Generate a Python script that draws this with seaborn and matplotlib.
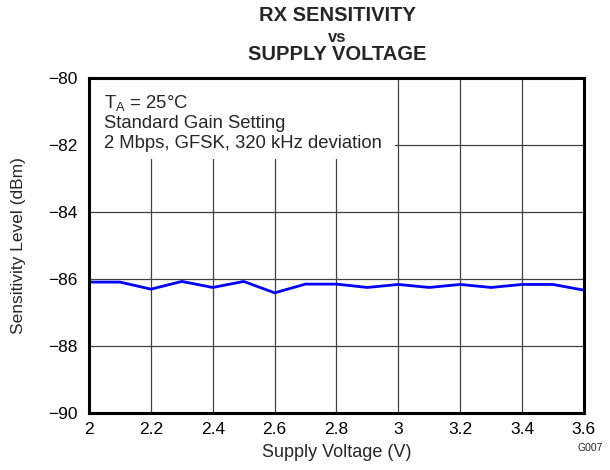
import matplotlib
matplotlib.use("Agg")
import matplotlib.pyplot as plt
from matplotlib.patches import Rectangle
import seaborn as sns
import pandas as pd

voltage = [2.0, 2.1, 2.2, 2.3, 2.4, 2.5, 2.6, 2.7, 2.8, 2.9, 3.0, 3.1, 3.2, 3.3, 3.4, 3.5, 3.6]
sensitivity = [-86.09, -86.09, -86.30, -86.07, -86.25, -86.07, -86.41, -86.15, -86.15,
               -86.25, -86.16, -86.25, -86.16, -86.25, -86.16, -86.16, -86.33]
xticks = [2, 2.2, 2.4, 2.6, 2.8, 3, 3.2, 3.4, 3.6]
xtick_labels = ["2", "2.2", "2.4", "2.6", "2.8", "3", "3.2", "3.4", "3.6"]
yticks = [-90, -88, -86, -84, -82, -80]
ytick_labels = ["\u221290", "\u221288", "\u221286", "\u221284", "\u221282", "\u221280"]

sns.set_style("white")
plt.rcParams['font.family'] = ['Liberation Sans', 'DejaVu Sans']

fig = plt.figure(figsize=(6.10, 4.70), dpi=100)
ax = fig.add_axes([0.146, 0.121, 0.811, 0.713])

df = pd.DataFrame({"V": voltage, "S": sensitivity})
sns.lineplot(data=df, x="V", y="S", ax=ax, color="#0000ff", linewidth=2.0, zorder=3)

ax.set_xlim(2, 3.6)
ax.set_ylim(-90, -80)
ax.set_xticks(xticks)
ax.set_xticklabels(xtick_labels)
ax.set_yticks(yticks)
ax.set_yticklabels(ytick_labels)
ax.tick_params(axis="x", labelsize=12.5, length=0, pad=6.5, colors="black")
ax.tick_params(axis="y", labelsize=12.5, length=0, pad=8.5, colors="black")
ax.grid(True, color="#404040", linewidth=0.9)
ax.set_axisbelow(True)
for s in ax.spines.values():
    s.set_color("black")
    s.set_linewidth(2.2)
    s.set_zorder(5)

ax.set_xlabel("Supply Voltage (V)", fontsize=13)
ax.xaxis.set_label_coords(0.5, -0.0925)
ax.set_ylabel("Sensitivity Level (dBm)", fontsize=12.5)
ax.yaxis.label.set_va("center")
ax.yaxis.set_label_coords(-0.1434, 0.5)

# white background behind the condition notes
ax.add_patch(Rectangle((0, 0.758), 0.618, 0.242, transform=ax.transAxes,
                       facecolor="white", edgecolor="none", zorder=2))
ax.text(0.03, 0.955, "T$_\\mathregular{A}$ = 25\u00b0C\nStandard Gain Setting\n2 Mbps, GFSK, 320 kHz deviation",
        transform=ax.transAxes, fontsize=13.3, va="top", ha="left", linespacing=1.17, zorder=4)

fig.text(0.553, 0.968, "RX SENSITIVITY", ha="center", va="center", fontsize=14.5, fontweight="bold")
fig.text(0.553, 0.921, "vs", ha="center", va="center", fontsize=12, fontweight="bold")
fig.text(0.553, 0.883, "SUPPLY VOLTAGE", ha="center", va="center", fontsize=14.5, fontweight="bold")
fig.text(0.989, 0.047, "G007", ha="right", va="center", fontsize=7.5)

fig.savefig("out.png", dpi=100)
